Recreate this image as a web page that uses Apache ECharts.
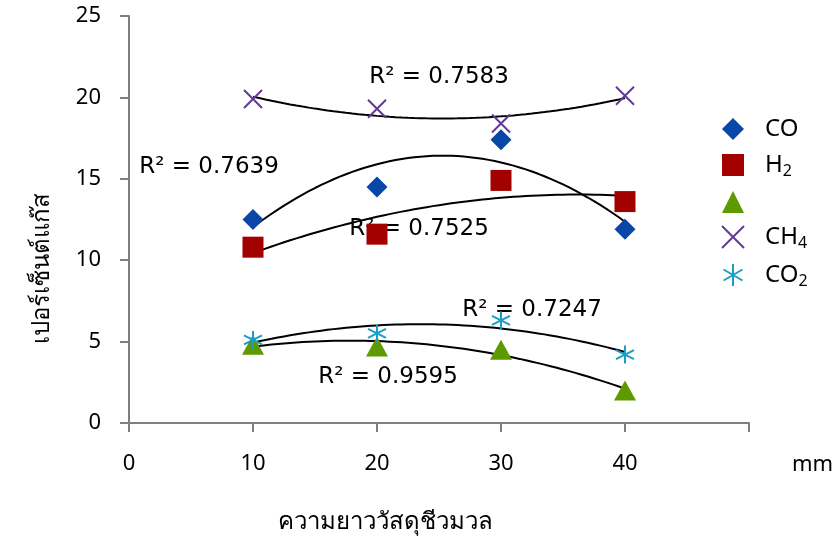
<!DOCTYPE html>
<html><head><meta charset="utf-8">
<script src="https://cdn.jsdelivr.net/npm/echarts@6/dist/echarts.min.js"></script>
<style>html,body{margin:0;padding:0;background:#fff}#c{width:832px;height:539px}</style>
</head><body><div id="c"></div>
<script>
// Data
const lengths = [10, 20, 30, 40];          // mm
const coValues  = [12.5, 14.5, 17.4, 11.9];
const h2Values  = [10.8, 11.6, 14.9, 13.6];
const triValues = [4.8, 4.7, 4.5, 2.0];
const ch4Values = [19.9, 19.3, 18.4, 20.1];
const co2Values = [5.1, 5.5, 6.3, 4.2];
const xTicks = [0, 10, 20, 30, 40];
const yTicks = [0, 5, 10, 15, 20, 25];
const r2Labels = ['R² = 0.7639', 'R² = 0.7583', 'R² = 0.7525', 'R² = 0.7247', 'R² = 0.9595'];
const xTitle = 'ความยาววัสดุชีวมวล';
const yTitle = 'เปอร์เซ็นต์แก๊ส';
const xUnit = 'mm';

// Polynomial (order 2) least-squares trendline, as the spreadsheet trendline does
function quadFit(xs, ys) {
  let n = xs.length, S = [0,0,0,0,0], T = [0,0,0];
  for (let i = 0; i < n; i++) {
    let p = 1;
    for (let k = 0; k < 5; k++) { S[k] += p; if (k < 3) T[k] += p * ys[i]; p *= xs[i]; }
  }
  const A = [[S[0],S[1],S[2],T[0]],[S[1],S[2],S[3],T[1]],[S[2],S[3],S[4],T[2]]];
  for (let i = 0; i < 3; i++) {
    for (let j = i + 1; j < 3; j++) {
      const f = A[j][i] / A[i][i];
      for (let k = i; k < 4; k++) A[j][k] -= f * A[i][k];
    }
  }
  const c = [0,0,0];
  for (let i = 2; i >= 0; i--) {
    let s = A[i][3];
    for (let k = i + 1; k < 3; k++) s -= A[i][k] * c[k];
    c[i] = s / A[i][i];
  }
  const pts = [];
  const x0 = Math.min(...xs), x1 = Math.max(...xs);
  for (let i = 0; i <= 60; i++) {
    const x = x0 + (x1 - x0) * i / 60;
    pts.push([x, c[0] + c[1] * x + c[2] * x * x]);
  }
  return pts;
}
const pairs = v => lengths.map((x, i) => [x, v[i]]);

const FONT = 'Noto Sans';
const colors = { co: '#0846a8', h2: '#a30000', tri: '#5f9900', ch4: '#613a96', co2: '#1a9dc6' };

function scatter(name, vals, symbol, size, color, stroke) {
  return {
    name, type: 'scatter', data: pairs(vals), symbol, symbolSize: size, z: 3,
    itemStyle: stroke ? { color: 'rgba(0,0,0,0)', borderColor: color, borderWidth: 2, opacity: 1 } : { color, opacity: 1 }
  };
}
function trend(vals) {
  return { type: 'line', data: quadFit(lengths, vals), showSymbol: false, silent: true, z: 2,
    lineStyle: { color: '#000', width: 2 } };
}

const legendNames = { CO: 'CO', H2: 'H{sub|2}', N: '', CH4: 'CH{sub|4}', CO2: 'CO{sub|2}' };
const r2Font = '23px "DejaVu Sans"';

const option = {
  animation: false,
  grid: { left: 129, right: 83, top: 16, bottom: 116, containLabel: false, outerBoundsMode: 'none' },
  xAxis: {
    type: 'value', min: 0, max: 50, interval: 10,
    name: xUnit, nameLocation: 'end', nameGap: 43,
    nameTextStyle: { fontFamily: FONT, fontSize: 22, color: '#000', align: 'left', verticalAlign: 'top', padding: [31, 0, 0, 0] },
    axisLine: { lineStyle: { color: '#7f7f7f', width: 2 } },
    axisTick: { show: true, length: 9, lineStyle: { color: '#7f7f7f', width: 2 } },
    axisLabel: { margin: 30, fontFamily: FONT, fontSize: 22, color: '#000',
      formatter: v => (xTicks.includes(v) ? String(v) : '') },
    splitLine: { show: false }
  },
  yAxis: {
    type: 'value', min: 0, max: 25, interval: 5,
    axisLine: { show: true, lineStyle: { color: '#7f7f7f', width: 2 } },
    axisTick: { show: true, length: 9, lineStyle: { color: '#7f7f7f', width: 2 } },
    axisLabel: { margin: 28, fontFamily: FONT, fontSize: 22, color: '#000',
      formatter: v => (yTicks.includes(v) ? String(v) : '') },
    splitLine: { show: false }
  },
  legend: {
    orient: 'vertical', left: 716, top: 112,
    itemWidth: 22, itemHeight: 22, itemGap: 12,
    data: ['CO', 'H2', 'N', 'CH4', 'CO2'],
    formatter: n => legendNames[n],
    textStyle: { fontFamily: FONT, fontSize: 24, color: '#000', padding: [0, 0, 0, 16],
      rich: { sub: { fontFamily: FONT, fontSize: 16, color: '#000', padding: [12, 0, 0, 0] } } }
  },
  series: [
    scatter('CO', coValues, 'diamond', [21, 21], colors.co),
    scatter('H2', h2Values, 'rect', [21, 21], colors.h2),
    scatter('N', triValues, 'triangle', [22, 20], colors.tri),
    scatter('CH4', ch4Values, 'path://M0,0L10,10M10,0L0,10', [18, 18], colors.ch4, true),
    scatter('CO2', co2Values, 'path://M5,0L5,10M0.7,2.5L9.3,7.5M0.7,7.5L9.3,2.5', [18, 18], colors.co2, true),
    trend(coValues), trend(h2Values), trend(triValues), trend(ch4Values), trend(co2Values)
  ],
  graphic: [
    { type: 'text', x: 209, y: 167, style: { text: r2Labels[0], font: r2Font, fill: '#000', textAlign: 'center', textVerticalAlign: 'middle' } },
    { type: 'text', x: 439, y: 77, style: { text: r2Labels[1], font: r2Font, fill: '#000', textAlign: 'center', textVerticalAlign: 'middle' } },
    { type: 'text', x: 419, y: 229, style: { text: r2Labels[2], font: r2Font, fill: '#000', textAlign: 'center', textVerticalAlign: 'middle' } },
    { type: 'text', x: 532, y: 310, style: { text: r2Labels[3], font: r2Font, fill: '#000', textAlign: 'center', textVerticalAlign: 'middle' } },
    { type: 'text', x: 388, y: 377, style: { text: r2Labels[4], font: r2Font, fill: '#000', textAlign: 'center', textVerticalAlign: 'middle' } },
    { type: 'text', x: 385, y: 522, style: { text: xTitle, font: '24px sans-serif', fill: '#000', textAlign: 'center', textVerticalAlign: 'middle' } },
    { type: 'text', x: 42, y: 268, rotation: Math.PI / 2, style: { text: yTitle, font: '24px sans-serif', fill: '#000', textAlign: 'center', textVerticalAlign: 'middle' } }
  ]
};
echarts.init(document.getElementById('c')).setOption(option);
</script></body></html>
